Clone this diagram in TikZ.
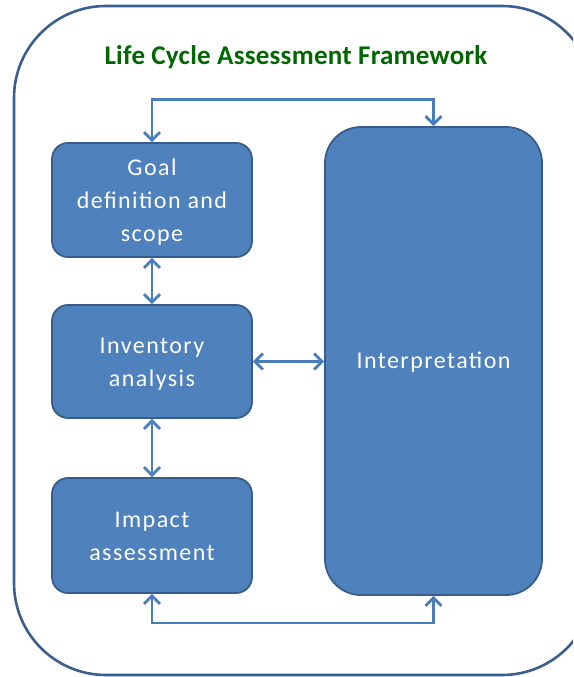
\documentclass[tikz,border=0pt]{standalone}
\usepackage{fontspec}
\setmainfont{Carlito}
\newfontfamily\boxfont[LetterSpace=6]{Carlito}
\newfontfamily\titlefont[LetterSpace=1]{Carlito}
\usetikzlibrary{arrows.meta}
\definecolor{boxfill}{RGB}{79,129,189}
\definecolor{boxline}{RGB}{56,93,138}
\definecolor{arrcol}{RGB}{74,126,187}
\definecolor{outline}{RGB}{58,95,142}
\definecolor{titlegreen}{RGB}{0,102,0}
\tikzset{
  stagebox/.style={draw=boxline, line width=1.8pt, fill=boxfill, rounded corners=16pt,
    text=white, align=center, font=\boxfont\fontsize{24}{33}\selectfont, inner sep=0pt},
  biarrow/.style={draw=arrcol, line width=2.8pt,
    {Straight Barb[length=8pt,width=16pt,line width=2.8pt]}-{Straight Barb[length=8pt,width=16pt,line width=2.8pt]}},
}
\newcommand{\lowered}[2]{\raisebox{-#1}[\height][\depth]{\parbox{195pt}{\centering #2}}}
\begin{document}
\begin{tikzpicture}[x=1pt,y=-1pt]
\useasboundingbox (0,0) rectangle (573,677);
\begin{scope}
\clip (0,0) rectangle (573,677);
\draw[outline, line width=2.6pt, rounded corners=92pt] (14,6) rectangle (594,675);
\end{scope}
\node[text=titlegreen, font=\titlefont\fontsize{27}{30}\selectfont\bfseries] (title) at (296,57) {Life Cycle Assessment Framework};
\node[stagebox, minimum width=200pt, minimum height=114pt] (goal) at (152,200) {\lowered{2pt}{Goal\\definition and\\scope}};
\node[stagebox, minimum width=200pt, minimum height=113pt] (inv) at (152,361.5) {\lowered{3pt}{Inventory\\analysis}};
\node[stagebox, minimum width=200pt, minimum height=115pt] (imp) at (152,535.5) {\lowered{1pt}{Impact\\assessment}};
\node[stagebox, rounded corners=36pt, minimum width=217pt, minimum height=468pt] (interp) at (433.5,361) {\lowered{1pt}{Interpretation}};
\draw[biarrow] (goal.north) -- ++(0,-43) -| (interp.north);
\draw[biarrow] (imp.south) -- ++(0,29) -| (interp.south);
\draw[biarrow] (goal.south) -- (inv.north);
\draw[biarrow] (inv.south) -- (imp.north);
\draw[biarrow] (inv.east) -- (inv.east -| interp.west);
\end{tikzpicture}
\end{document}
